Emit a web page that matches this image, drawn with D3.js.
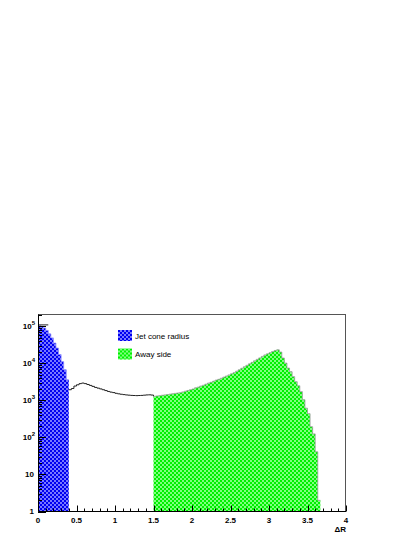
<!DOCTYPE html>
<html>
<head>
<meta charset="utf-8">
<script src="https://cdn.jsdelivr.net/npm/d3@7"></script>
<style>
  body { margin: 0; background: #fff; }
  text { font-family: "Liberation Sans", Arial, sans-serif; }
</style>
</head>
<body>
<script>
var width = 415,
    height = 537;

// histogram binning
var nBins = 120,
    xMin = 0,
    xMax = 4;

// bins 0-11 (0 < dR < 0.4)
var jetCone = [105000, 100000, 91000, 78000, 63000, 49000, 35500, 26000, 17400, 11200, 6800, 3600];

// bins 12-44 (0.4 < dR < 1.5)
var between = [1950, 2100, 2450, 2650, 2850, 2950, 2850, 2700, 2550, 2400,
               2250, 2150, 2050, 1950, 1850, 1750, 1680, 1630, 1560, 1510,
               1470, 1440, 1410, 1390, 1370, 1360, 1350, 1360, 1370, 1390,
               1410, 1420, 1400];

// bins 45-109 (dR > 1.5)
var awaySide = [1300, 1320, 1350, 1380, 1410, 1440, 1480, 1510, 1550, 1590,
                1620, 1700, 1780, 1860, 1950, 2040, 2190, 2290, 2450, 2570,
                2750, 2950, 3090, 3310, 3550, 3720, 3980, 4270, 4570, 4900,
                5250, 5620, 6170, 6760, 7400, 8130, 8900, 9800, 10700, 11750,
                12900, 14100, 15500, 17000, 18200, 19500, 20900, 22400, 23400,
                20300, 14000, 10200, 7500, 6000, 4400, 3200, 2500, 1730, 1050,
                620, 440, 195, 125, 41, 2];

var xTicks = [0, 0.5, 1, 1.5, 2, 2.5, 3, 3.5, 4];
var yTicks = [1, 10, 100, 1000, 10000, 100000];
var legendItems = [
  {label: 'Jet cone radius', pattern: 'checkBlue'},
  {label: 'Away side', pattern: 'checkGreen'}
];

var binW = (xMax - xMin) / nBins;
var counts = jetCone.concat(between, awaySide);
while (counts.length < nBins) counts.push(0);

var bins = counts.map(function(v, i) {
  return {x0: xMin + i * binW, x1: xMin + (i + 1) * binW, v: v};
});

var svg = d3.select('body')
  .append('svg')
  .attr('width', width)
  .attr('height', height);

var x = d3.scaleLinear().domain([xMin, xMax]).range([38, 346]);
var y = d3.scaleLog().domain([1, 2.1e5]).range([511.5, 314.5]).clamp(true);

function yv(v) { return y(Math.max(v, 1)); }

// checker fills
var defs = svg.append('defs');
function checker(id, dark, light) {
  var p = defs.append('pattern')
    .attr('id', id)
    .attr('patternUnits', 'userSpaceOnUse')
    .attr('width', 4)
    .attr('height', 4);
  p.append('rect').attr('width', 4).attr('height', 4).attr('fill', light);
  p.append('rect').attr('width', 2).attr('height', 2).attr('fill', dark);
  p.append('rect').attr('x', 2).attr('y', 2).attr('width', 2).attr('height', 2).attr('fill', dark);
}
checker('checkBlue', '#0000f0', '#7878ff');
checker('checkGreen', '#00f000', '#80ff80');

function stepPoints(sub) {
  var pts = sub.map(function(b) { return [b.x0, b.v]; });
  var last = sub[sub.length - 1];
  pts.push([last.x1, last.v]);
  return pts;
}

var area = d3.area()
  .curve(d3.curveStepAfter)
  .x(function(d) { return x(d[0]); })
  .y0(y(1))
  .y1(function(d) { return yv(d[1]); });

var line = d3.line()
  .curve(d3.curveStepAfter)
  .x(function(d) { return x(d[0]); })
  .y(function(d) { return yv(d[1]); });

var plot = svg.append('g');

plot.append('path')
  .attr('d', area(stepPoints(bins.slice(0, 12))))
  .attr('fill', 'url(#checkBlue)');

plot.append('path')
  .attr('d', area(stepPoints(bins.slice(45, 110))))
  .attr('fill', 'url(#checkGreen)');

// outline over filled regions
plot.append('path')
  .attr('d', line(stepPoints(bins.slice(45, 110))))
  .attr('fill', 'none')
  .attr('stroke', '#999')
  .attr('stroke-width', 0.8);

plot.append('path')
  .attr('d', line(stepPoints(bins.slice(0, 12))))
  .attr('fill', 'none')
  .attr('stroke', '#8a8aff')
  .attr('stroke-width', 0.8);

// full histogram between the regions
var mid = stepPoints(bins.slice(11, 46));
plot.append('path')
  .attr('d', line(mid.slice(1, mid.length - 1)))
  .attr('fill', 'none')
  .attr('stroke', '#222')
  .attr('stroke-width', 1);

plot.append('line')
  .attr('x1', x(0)).attr('x2', x(4 * binW))
  .attr('y1', yv(110000)).attr('y2', yv(110000))
  .attr('stroke', '#222');

// ticks
var axes = svg.append('g').attr('stroke', '#000').attr('stroke-width', 1);

d3.range(0, 40.5, 1).forEach(function(k) {
  var xv = k / 10;
  var major = k % 5 === 0;
  axes.append('line')
    .attr('x1', Math.round(x(xv)) + 0.5).attr('x2', Math.round(x(xv)) + 0.5)
    .attr('y1', 511.5).attr('y2', 511.5 - (major ? 6 : 3));
});

yTicks.forEach(function(t) {
  var ds = t < 1e5 ? [1, 2, 3, 4, 5, 6, 7, 8, 9] : [1, 2];
  ds.forEach(function(m) {
    var v = t * m;
    axes.append('line')
      .attr('x1', 38).attr('x2', 38 + (m === 1 ? 8 : 4))
      .attr('y1', Math.round(y(v)) + 0.5).attr('y2', Math.round(y(v)) + 0.5);
  });
});

// frame
svg.append('rect')
  .attr('x', 38.5).attr('y', 314.5)
  .attr('width', 307).attr('height', 197)
  .attr('fill', 'none')
  .attr('stroke', '#555')
  .attr('stroke-width', 1);

svg.append('line')
  .attr('x1', 38.5).attr('x2', 38.5)
  .attr('y1', 314.5).attr('y2', 511.5)
  .attr('stroke', '#000');
svg.append('line')
  .attr('x1', 38.5).attr('x2', 346)
  .attr('y1', 511.5).attr('y2', 511.5)
  .attr('stroke', '#000');

// tick labels
svg.append('g').selectAll('text')
  .data(xTicks)
  .enter()
  .append('text')
  .attr('x', function(d) { return x(d); })
  .attr('y', 523)
  .attr('text-anchor', 'middle')
  .attr('font-size', 8)
  .attr('font-weight', 'bold')
  .text(function(d) { return d; });

var yl = svg.append('g').selectAll('text')
  .data(yTicks)
  .enter()
  .append('text')
  .attr('x', function(d) { return d >= 100 ? 35 : 34; })
  .attr('y', function(d) { return y(d) + (d === 1 ? 2 : 3); })
  .attr('text-anchor', 'end')
  .attr('font-size', 8)
  .attr('font-weight', 'bold');

yl.each(function(d) {
  var t = d3.select(this);
  var e = Math.round(Math.log10(d));
  if (e < 2) {
    t.text(d);
  } else {
    t.append('tspan').text('10');
    t.append('tspan').attr('dy', -4).attr('font-size', 6).text(e);
  }
});

svg.append('text')
  .attr('x', 346)
  .attr('y', 532)
  .attr('text-anchor', 'end')
  .attr('font-size', 8)
  .attr('font-weight', 'bold')
  .text('\u0394R');

// legend
var leg = svg.append('g')
  .selectAll('g')
  .data(legendItems)
  .enter()
  .append('g')
  .attr('transform', function(d, i) { return 'translate(118,' + (330 + i * 18.5) + ')'; });

leg.append('rect')
  .attr('width', 14)
  .attr('height', 11)
  .attr('fill', function(d) { return 'url(#' + d.pattern + ')'; });

leg.append('text')
  .attr('x', 17)
  .attr('y', 8.5)
  .attr('font-size', 8)
  .text(function(d) { return d.label; });
</script>
</body>
</html>
